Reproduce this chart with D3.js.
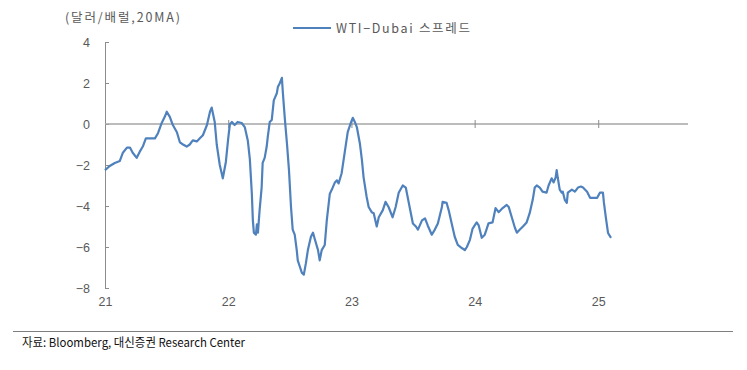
<!DOCTYPE html>
<html>
<head>
<meta charset="utf-8">
<script src="https://cdn.jsdelivr.net/npm/d3@7"></script>
<style>
  body { margin: 0; background: #fff; }
  svg text { font-family: "Liberation Sans", Arial, "Noto Sans CJK KR", sans-serif; fill: #595959; }
  .kr { font-family: "Noto Sans CJK KR", "Liberation Sans", sans-serif; }
</style>
</head>
<body>
<svg id="chart" width="747" height="370"></svg>
<script>
const dates = [
  "2021-01-01","2021-01-15","2021-01-30","2021-02-14","2021-02-23","2021-03-07","2021-03-16","2021-03-24",
  "2021-04-05","2021-04-14","2021-04-23","2021-05-02","2021-05-14","2021-05-29","2021-06-07","2021-06-18",
  "2021-06-27","2021-07-03","2021-07-12","2021-07-21","2021-08-02","2021-08-11","2021-08-20","2021-08-31",
  "2021-09-09","2021-09-18","2021-09-30","2021-10-09","2021-10-18","2021-10-30","2021-11-08","2021-11-13",
  "2021-11-22","2021-11-28","2021-12-07","2021-12-16","2021-12-25",
  "2022-01-01","2022-01-06","2022-01-12","2022-01-20","2022-01-29","2022-02-10","2022-02-19","2022-02-28",
  "2022-03-06","2022-03-12","2022-03-15","2022-03-18","2022-03-24","2022-03-27","2022-03-30","2022-04-04",
  "2022-04-10","2022-04-13","2022-04-19","2022-04-25","2022-04-28","2022-05-04","2022-05-10","2022-05-16",
  "2022-05-25","2022-05-28","2022-06-03","2022-06-09","2022-06-12","2022-06-18","2022-06-24","2022-06-30",
  "2022-07-06","2022-07-11","2022-07-17","2022-07-23","2022-07-26","2022-08-01","2022-08-07","2022-08-13",
  "2022-08-19","2022-08-25","2022-09-03","2022-09-09","2022-09-15","2022-09-24","2022-09-29","2022-10-05",
  "2022-10-14","2022-10-20","2022-10-29","2022-11-04","2022-11-13","2022-11-19","2022-11-24","2022-12-03",
  "2022-12-12","2022-12-21","2022-12-30",
  "2023-01-05","2023-01-11","2023-01-17","2023-01-26","2023-02-01","2023-02-06","2023-02-15","2023-02-21",
  "2023-03-02","2023-03-08","2023-03-17","2023-03-23","2023-04-04","2023-04-12","2023-04-21","2023-05-03",
  "2023-05-12","2023-05-21","2023-06-02","2023-06-11","2023-06-20","2023-07-02","2023-07-11","2023-07-17",
  "2023-07-29","2023-08-07","2023-08-15","2023-08-27","2023-09-05","2023-09-14","2023-09-26","2023-09-28",
  "2023-10-10","2023-10-16","2023-10-25","2023-11-03","2023-11-12","2023-11-24","2023-12-03","2023-12-09",
  "2023-12-18","2023-12-26",
  "2024-01-07","2024-01-13","2024-01-22","2024-01-31","2024-02-05","2024-02-11","2024-02-23","2024-03-03",
  "2024-03-12","2024-03-24","2024-04-05","2024-04-11","2024-04-20","2024-04-29","2024-05-05","2024-05-14",
  "2024-05-23","2024-06-03","2024-06-12","2024-06-21","2024-06-27","2024-07-03","2024-07-12","2024-07-20",
  "2024-08-01","2024-08-07","2024-08-16","2024-08-22","2024-08-28","2024-08-31","2024-09-03","2024-09-09",
  "2024-09-15","2024-09-18","2024-09-24","2024-09-30","2024-10-03","2024-10-15","2024-10-24","2024-11-02",
  "2024-11-11","2024-11-17","2024-11-29","2024-12-08","2024-12-17","2024-12-29",
  "2025-01-06","2025-01-15","2025-01-18","2025-01-24","2025-01-30","2025-02-02","2025-02-08"
];

const spread = [
  -2.25,-2.05,-1.9,-1.8,-1.4,-1.15,-1.15,-1.4,
  -1.65,-1.35,-1.1,-0.7,-0.7,-0.7,-0.45,0.05,
  0.35,0.6,0.35,-0.05,-0.4,-0.9,-1.0,-1.1,
  -1.0,-0.8,-0.85,-0.7,-0.55,-0.05,0.6,0.8,
  0.1,-1.0,-2.0,-2.65,-1.85,
  -0.7,0,0.1,-0.05,0.1,0.05,-0.15,-0.8,
  -1.7,-3.4,-4.7,-5.3,-5.4,-4.9,-5.3,-4.2,
  -3.1,-1.9,-1.65,-1.1,-0.65,0.1,0.2,1.15,
  1.5,1.8,2.0,2.25,1.5,0.2,-0.95,-2.25,
  -4.05,-5.15,-5.4,-6.15,-6.65,-6.95,-7.25,-7.35,
  -6.8,-6.15,-5.5,-5.3,-5.65,-6.15,-6.65,-6.15,
  -5.9,-4.7,-3.4,-3.2,-2.85,-2.75,-2.9,-2.4,
  -1.4,-0.4,0.05,
  0.3,0.1,-0.15,-0.95,-1.75,-2.6,-3.55,-4.05,
  -4.3,-4.35,-5.0,-4.55,-4.2,-3.8,-4.05,-4.55,
  -4.05,-3.35,-3.0,-3.1,-3.85,-4.85,-5.0,-5.15,
  -4.7,-4.6,-4.95,-5.4,-5.15,-4.85,-4.05,-3.8,
  -3.85,-4.2,-4.85,-5.5,-5.9,-6.05,-6.15,-6.0,
  -5.65,-5.1,
  -4.8,-4.95,-5.55,-5.4,-5.15,-4.85,-4.8,-4.1,
  -4.3,-4.1,-3.95,-4.05,-4.55,-5.05,-5.3,-5.15,
  -5.0,-4.8,-4.35,-3.7,-3.1,-3.0,-3.1,-3.3,
  -3.35,-3.0,-2.65,-2.85,-2.6,-2.25,-2.6,-3.2,
  -3.35,-3.3,-3.7,-3.85,-3.35,-3.2,-3.3,-3.1,
  -3.05,-3.1,-3.3,-3.6,-3.6,-3.6,
  -3.35,-3.35,-3.85,-4.6,-5.3,-5.4,-5.55
];

const yTicks = [4, 2, 0, -2, -4, -6, -8];
const yearTicks = ["2021-01-01", "2022-01-01", "2023-01-01", "2024-01-01", "2025-01-01"];
const xDomain = ["2021-01-01", "2025-09-24"];
const seriesName = "WTI\u2212Dubai 스프레드";
const unitLabel = "(달러/배럴,20MA)";
const sourceText = "자료: Bloomberg, 대신증권 Research Center";

const parse = d3.timeParse("%Y-%m-%d");
const data = dates.map((d, i) => ({ date: parse(d), value: spread[i] }));

const svg = d3.select("#chart");
const x = d3.scaleTime().domain(xDomain.map(parse)).range([105, 688]);
const y = d3.scaleLinear().domain([-8, 4]).range([288, 42]);
const fmt = (d) => (d < 0 ? "\u2212" + Math.abs(d) : d);

// y axis, ticks pointing inward
const yAxis = svg.append("g")
  .attr("transform", `translate(${x.range()[0]},0)`)
  .call(d3.axisLeft(y).tickValues(yTicks).tickSizeInner(-4).tickSizeOuter(0).tickPadding(15).tickFormat(fmt));
yAxis.select(".domain").attr("stroke", "#8c8c8c");
yAxis.selectAll(".tick line").attr("stroke", "#8c8c8c");
yAxis.selectAll("text").style("font-size", "12.5px").attr("fill", "#595959");

// zero line with year ticks crossing it
svg.append("line")
  .attr("x1", x.range()[0]).attr("x2", x.range()[1])
  .attr("y1", y(0)).attr("y2", y(0))
  .attr("stroke", "#a6a6a6").attr("stroke-width", 1.5);
const xTickMarks = svg.append("g")
  .attr("transform", `translate(0,${y(0) - 4})`)
  .call(d3.axisBottom(x).tickValues(yearTicks.slice(1).map(parse)).tickSize(8).tickFormat(""));
xTickMarks.select(".domain").remove();
xTickMarks.selectAll(".tick line").attr("stroke", "#8c8c8c");

// year labels under the plot
const xLabels = svg.append("g")
  .attr("transform", `translate(0,${y(-8)})`)
  .call(d3.axisBottom(x).tickValues(yearTicks.map(parse)).tickSize(0).tickPadding(9).tickFormat(d3.timeFormat("%y")));
xLabels.select(".domain").remove();
xLabels.selectAll("text").style("font-size", "12.5px").attr("fill", "#595959");

// series
svg.append("path")
  .datum(data)
  .attr("fill", "none")
  .attr("stroke", "#4f81bd")
  .attr("stroke-width", 2.2)
  .attr("stroke-linejoin", "round")
  .attr("d", d3.line().x((d) => x(d.date)).y((d) => y(d.value)));

// unit label
svg.append("text")
  .attr("class", "kr")
  .attr("x", 65).attr("y", 22)
  .attr("textLength", 115)
  .attr("lengthAdjust", "spacing")
  .style("font-size", "12.5px")
  .text(unitLabel);

// legend
svg.append("line")
  .attr("x1", 293).attr("x2", 331).attr("y1", 28).attr("y2", 28)
  .attr("stroke", "#4f81bd").attr("stroke-width", 2);
svg.append("text")
  .attr("class", "kr")
  .attr("x", 336).attr("y", 32.5)
  .attr("textLength", 134)
  .attr("lengthAdjust", "spacing")
  .style("font-size", "12.5px")
  .text(seriesName);

// source
svg.append("line")
  .attr("x1", 13).attr("x2", 733).attr("y1", 331.5).attr("y2", 331.5)
  .attr("stroke", "#7f7f7f").attr("stroke-width", 1);
svg.append("text")
  .attr("class", "kr")
  .attr("x", 22).attr("y", 347)
  .attr("textLength", 223)
  .attr("lengthAdjust", "spacingAndGlyphs")
  .style("font-size", "12px")
  .style("fill", "#111")
  .text(sourceText);
</script>
</body>
</html>
